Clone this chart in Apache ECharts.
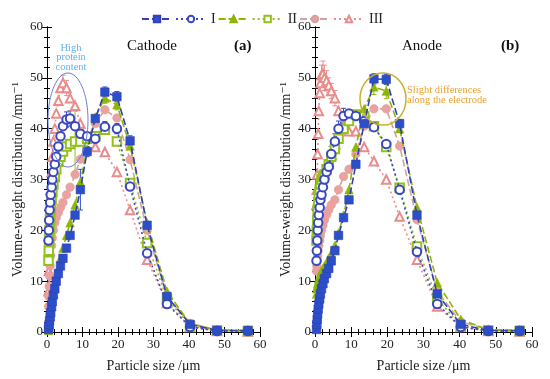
<!DOCTYPE html>
<html><head><meta charset="utf-8">
<script src="https://cdn.jsdelivr.net/npm/echarts@6/dist/echarts.min.js"></script>
<style>html,body{margin:0;padding:0;background:#fff}#c{width:550px;height:379px}</style>
</head><body><div id="c"></div>
<script>
// Particle size bins (µm)
const sizes = [0.42,0.51,0.61,0.73,0.88,1.05,1.3,1.5,1.8,2.2,2.6,3.2,3.8,4.5,5.5,6.5,7.9,9.4,11.3,13.6,16.3,19.7,23.4,28.2,33.8,40.3,47.9,56.6];
const xTicks = [0,10,20,30,40,50,60];
const yTicks = [0,10,20,30,40,50,60];
const seriesNames = ['Ia','I','IIa','II','IIIa','III'];

// Cathode (a)
const cathodeIa  = [0.5,1.0,1.5,2.2,3.0,3.8,5,6,7.3,8.5,10,11.5,13,14.5,16.5,19,23,28,35.5,42,47.2,46.3,37.6,21,7,1.5,0.3,0.3];
const cathodeI   = [18,20,22,24,25.5,27,28.5,30,31.5,33,34.5,36.5,38.5,40.5,41.8,42,40.5,39,38.5,38,40.4,40,28.6,15.5,5.5,1,0.2,0.2];
const cathodeIIa = [0.3,0.8,1.5,2.2,3,4,5,6,7.5,9,10.5,12.5,14.5,16.5,19,21.5,25,29.5,36,42.3,46,44.7,36.6,21.5,8,1.6,0.4,0.2];
const cathodeII  = [14,16,18,20,22,24,26,27.5,29,30.5,32,33.5,34.5,35.5,36.5,37,37.5,37.5,38,38.5,39.8,37.5,29.3,17.5,6.5,1.2,0.3,0.2];
const cathodeIIIa= [5,7,9,11,13,15,17,18.5,20,21.5,22.5,23.5,24.5,25.5,27,28.5,31,34,38,41,43.7,42.1,33.9,20,7,1.7,0.4,0.3];
const cathodeIII = [8,12,16,20,24,28,31.5,34.5,37.5,40,43,45.5,48,49,48,46,44.5,41,38.5,36.4,35.4,31.5,24,14.2,5.7,1,0.2,0.1];

// Anode (b)
const anodeIa  = [0.5,1.5,2.5,3.5,4.5,5.5,6.5,7.5,8.5,9.5,10.5,11.5,12.5,14,16,19,22.5,26,33,41,49.8,49.7,41,23,7.5,1.5,0.3,0.3];
const anodeI   = [14,16,18,20,21.5,23,24.5,26,27,28.5,30,31.5,32.5,35,37.5,40,42.5,43,42.5,41.5,40.3,37,28,15.8,5.5,1,0.2,0.2];
const anodeIIa = [7.5,8.5,9,9.5,10,10.5,11,11.5,12,12.5,13,13.5,14.5,15.5,17,19.5,23,28,36.4,43.9,48.2,47.4,40,24.5,9.7,2.5,0.4,0.2];
const anodeII  = [18,20,22,24,25.5,27,28,29,30,30.5,31,32,33,34.5,36,38,40,41.5,42.8,42.5,40.5,36.4,28.4,16.8,6.5,1.2,0.3,0.2];
const anodeIIIa= [12,13,14,15,16,17,18,19,20,21,22,23,24,25,26,28,30.6,32,35,40.5,43.9,43.9,36.6,22.1,8,2,0.5,0.4];
const anodeIII = [25,28,31,35,39,43.5,47,49,50.5,50.8,50,49.4,48.5,47.4,46,43.5,40.5,39.5,39.5,36.4,33.6,30,22.7,14.2,5,1,0.2,0.1];

// Error bar half-widths (0 = no visible bar)
const cathodeErrIa  = [0,0,0,0,0,0,0,0,0,0,0,0,0,0,0,0,0,4,1,0,1,1,1,0,0,0,0,0];
const cathodeErrI   = [0,0,0,0,0,0,0,0,0,0,0,0,0,0,1.5,1.5,0,0,0,0,1,1,0,0,0,0,0,0];
const cathodeErrIIa = [0,0,0,0,0,0,0,0,0,0,0,0,0,0,0,0,0,0,0,0,1,1,0,0,0,0,0,0];
const cathodeErrII  = [0,0,0,0,0,0,0,0,0,0,0,0,0,0,0,0,6,0,0,0,0,0,0,0,0,0,0,0];
const cathodeErrIIIa= [0,0,0,0,0,0,0,0,0,0,0,0,0,0,0,0,0,0,0,0,0,0,0,0,0,0,0,0];
const cathodeErrIII = [0,0,0,0,0,0,0,0,0,0,0,0,0,1.5,1.5,0,0,0,0,0,0,0,0,0,0,0,0,0];
const anodeErrIa  = [0,0,0,0,0,0,0,0,0,0,0,0,0,0,0,0,0,0,0,0,1,1,0.8,0,0,0,0,0];
const anodeErrI   = [0,0,0,0,0,0,0,0,0,0,0,0,0,1.5,1.5,1.5,1.5,0,0,0,0,0,0,0,0,0,0,0];
const anodeErrIIa = [0,0,0,0,0,0,0,0,0,0,0,0,0,0,0,0,0,0,0,0,1.5,1.5,0,0,0,0,0,0];
const anodeErrII  = [0,0,0,0,0,0,0,0,0,0,0,0,0,2,2,2,0,0,0,0,0,0,0,0,0,0,0,0];
const anodeErrIIIa= [0,0,0,0,0,0,0,0,0,0,0,0,0,0,0,0,0,0,0,0,0,0,0,0,0,0,0,0];
const anodeErrIII = [0,0,0,0,0,0,0,0,2,2.5,2.5,2,1.5,1.5,1.5,0,0,0,0,0,0,0,0,0,0,0,0,0];

const cathode = [cathodeIa,cathodeI,cathodeIIa,cathodeII,cathodeIIIa,cathodeIII];
const anode = [anodeIa,anodeI,anodeIIa,anodeII,anodeIIIa,anodeIII];
const cathodeErr = [cathodeErrIa,cathodeErrI,cathodeErrIIa,cathodeErrII,cathodeErrIIIa,cathodeErrIII];
const anodeErr = [anodeErrIa,anodeErrI,anodeErrIIa,anodeErrII,anodeErrIIIa,anodeErrIII];

const styles = [
  {symbol:'rect', color:'#2a4fc8', line:'#3340b8', type:[7,3]},
  {symbol:'emptyCircle', color:'#3a48c4', line:'#3a48c4', type:[2,3]},
  {symbol:'triangle', color:'#8db600', line:'#8db600', type:[7,3]},
  {symbol:'emptyRect', color:'#92c21a', line:'#92c21a', type:[2,3]},
  {symbol:'circle', color:'#eca0a0', line:'#d4a29a', type:[7,3]},
  {symbol:'emptyTriangle', color:'#ea8c8c', line:'#ea8c8c', type:[2,3]}
];

const FONT = '"Liberation Serif", "DejaVu Serif", serif';
const chart = echarts.init(document.getElementById('c'), null, {renderer:'canvas'});

function commonAxis(){
  return {
    axisLine:{lineStyle:{color:'#000', width:1}},
    axisTick:{length:5, lineStyle:{color:'#000'}},
    minorTick:{show:true, splitNumber:5, length:3, lineStyle:{color:'#000'}},
    splitLine:{show:false}
  };
}
function xAxes(gi){
  return [
    Object.assign(commonAxis(), {gridIndex:gi, type:'value', min:0, max:60, interval:10, position:'bottom',
     name:'Particle size /\u03bcm', nameLocation:'middle', nameGap:27,
     nameTextStyle:{fontFamily:FONT, fontSize:14, color:'#222'},
     axisLabel:{fontFamily:FONT, fontSize:13, color:'#222', margin:6,
       formatter:v=>xTicks.includes(v)?String(v):''}}),
    Object.assign(commonAxis(), {gridIndex:gi, type:'value', min:0, max:60, interval:10, position:'top',
     axisLabel:{show:false}})
  ];
}
function yAxes(gi){
  return [
    Object.assign(commonAxis(), {gridIndex:gi, type:'value', min:0, max:60, interval:10, position:'left',
     name:'Volume-weight distribution /mm\u207b\u00b9', nameLocation:'middle', nameGap:22,
     nameTextStyle:{fontFamily:FONT, fontSize:14, color:'#222'},
     axisLabel:{fontFamily:FONT, fontSize:13, color:'#222', margin:4,
       formatter:v=>yTicks.includes(v)?String(v):''}}),
    Object.assign(commonAxis(), {gridIndex:gi, type:'value', min:0, max:60, interval:10, position:'right',
     axisLabel:{show:false}})
  ];
}

function makeSeries(sets, errs, gi){
  const out = [];
  sets.forEach((vals, i) => {
    const st = styles[i];
    const empty = st.symbol.startsWith('empty');
    out.push({
      type:'custom', xAxisIndex: gi*2, yAxisIndex: gi*2, silent:true,
      data: sizes.map((s,k)=>[s, vals[k], errs[i][k]]).filter(d=>d[2]>0),
      renderItem: (params, api) => {
        const x = api.value(0), y = api.value(1), e = api.value(2);
        const top = api.coord([x, y+e]), bot = api.coord([x, y-e]);
        const style = {stroke: st.color, lineWidth: 1};
        return {type:'group', children:[
          {type:'line', shape:{x1:top[0], y1:top[1], x2:bot[0], y2:bot[1]}, style},
          {type:'line', shape:{x1:top[0]-2.5, y1:top[1], x2:top[0]+2.5, y2:top[1]}, style},
          {type:'line', shape:{x1:bot[0]-2.5, y1:bot[1], x2:bot[0]+2.5, y2:bot[1]}, style}
        ]};
      },
      z: 1
    });
    out.push({
      name: seriesNames[i], type:'line', xAxisIndex: gi*2, yAxisIndex: gi*2,
      data: sizes.map((s,k)=>[s, vals[k]]),
      symbol: st.symbol, symbolSize: 8.5,
      itemStyle:{color: st.color, borderWidth: empty?1.3:0.6, borderColor: empty?st.color:st.line},
      lineStyle:{color: st.line, width: 1.6, type: st.type},
      z: 2 + (5 - i)
    });
  });
  return out;
}

const option = {
  animation:false,
  backgroundColor:'#fff',
  legend:{
    top:7, left:136, itemWidth:30, itemHeight:8, itemGap:2,
    data: seriesNames,
    formatter: n => n.endsWith('a') ? '' : n,
    textStyle:{fontFamily:FONT, fontSize:14, color:'#222', padding:[0,6,0,0]}
  },
  grid:[
    {left:47, right:290, top:27, bottom:47},
    {left:315, right:18, top:27, bottom:47}
  ],
  xAxis:[...xAxes(0), ...xAxes(1)],
  yAxis:[...yAxes(0), ...yAxes(1)],
  series:[...makeSeries(cathode,cathodeErr,0), ...makeSeries(anode,anodeErr,1)],
  graphic:[
    {type:'text', left:127, top:39, style:{text:'Cathode', font:'15px '+FONT, fill:'#111'}},
    {type:'text', left:234, top:39, style:{text:'(a)', font:'bold 15px '+FONT, fill:'#111'}},
    {type:'text', left:402, top:39, style:{text:'Anode', font:'15px '+FONT, fill:'#111'}},
    {type:'text', left:501, top:39, style:{text:'(b)', font:'bold 15px '+FONT, fill:'#111'}},
    {type:'text', x:71, y:43, style:{text:'High\nprotein\ncontent', font:'10.5px '+FONT, fill:'#62b2e6', align:'center', lineHeight:9.5}},
    {type:'ellipse', shape:{cx:68, cy:120, rx:20, ry:47}, style:{fill:null, stroke:'#6a80d8', lineWidth:1}, z:10},
    {type:'ellipse', shape:{cx:383, cy:99, rx:23, ry:26}, style:{fill:null, stroke:'#c8b030', lineWidth:1.5}, z:10},
    {type:'text', x:407, y:85, style:{text:'Slight differences\nalong the electrode', font:'10.5px '+FONT, fill:'#eba030', lineHeight:10}}
  ]
};
chart.setOption(option);
</script></body></html>
